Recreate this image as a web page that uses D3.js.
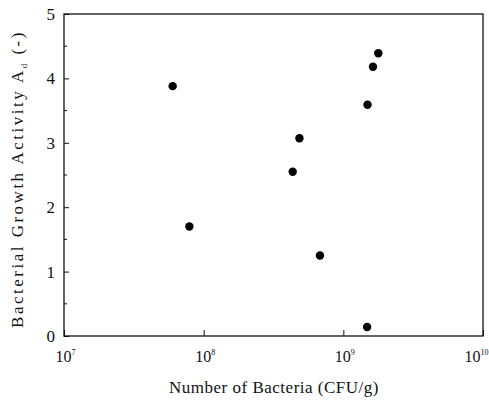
<!DOCTYPE html>
<html lang="en">
<head>
  <meta charset="UTF-8">
  <title>Bacterial Growth Activity vs Number of Bacteria</title>
  <style>
    body { margin: 0; background: #fff; }
  </style>
</head>
<body>
<div id="chart"></div>
<script src="https://d3js.org/d3.v7.min.js"></script>
<script>

// bacteria counts (CFU/g) and growth activity
const bacteria = [6.0e7, 7.9e7, 4.34e8, 4.85e8, 6.8e8, 1.48e9, 1.49e9, 1.63e9, 1.78e9];
const activity = [3.88, 1.70, 2.55, 3.07, 1.25, 0.14, 3.59, 4.18, 4.39];

const xTickExps = [7, 8, 9, 10];
const yTicks = [0, 1, 2, 3, 4, 5];
const yMinor = [0.5, 1.5, 2.5, 3.5, 4.5];

const serif = "'Liberation Serif', 'Times New Roman', Times, 'DejaVu Serif', serif";

const width = 489, height = 402;
const margin = {top: 14, right: 6, bottom: 66, left: 64};

const svg = d3.select("#chart").append("svg")
  .attr("width", width)
  .attr("height", height)
  .style("font-family", serif);

const x = d3.scaleLog()
  .domain([1e7, 1e10])
  .range([margin.left, width - margin.right]);

const y = d3.scaleLinear()
  .domain([0, 5])
  .range([height - margin.bottom, margin.top]);

// frame
svg.append("rect")
  .attr("x", x.range()[0])
  .attr("y", y.range()[1])
  .attr("width", x.range()[1] - x.range()[0])
  .attr("height", y.range()[0] - y.range()[1])
  .attr("fill", "none")
  .attr("stroke", "#111")
  .attr("stroke-width", 1.3);

// y axis, ticks pointing inward
const yAxis = d3.axisLeft(y)
  .tickValues(yTicks)
  .tickSize(-5)
  .tickPadding(9)
  .tickFormat(d3.format("d"));

const gy = svg.append("g")
  .attr("transform", `translate(${margin.left},0)`)
  .call(yAxis)
  .attr("font-family", null);
gy.select(".domain").remove();
gy.selectAll("line").attr("stroke", "#111");
gy.selectAll("text")
  .style("font-family", serif)
  .attr("fill", "#111")
  .attr("font-size", 17);

gy.selectAll(".minor")
  .data(yMinor)
  .enter().append("line")
  .attr("x1", 0).attr("x2", 3)
  .attr("y1", d => y(d)).attr("y2", d => y(d))
  .attr("stroke", "#111");

// x axis, ticks pointing inward, labels as powers of ten
const xAxis = d3.axisBottom(x)
  .tickValues(xTickExps.map(e => Math.pow(10, e)))
  .tickSize(-6)
  .tickFormat("");

const gx = svg.append("g")
  .attr("transform", `translate(0,${height - margin.bottom})`)
  .call(xAxis)
  .attr("font-family", null);
gx.select(".domain").remove();
gx.selectAll("line").attr("stroke", "#111");

gx.selectAll(".tick").each(function(d, i) {
  const last = i === xTickExps.length - 1;
  const t = d3.select(this).append("text")
    .attr("x", last ? 5 : 1)
    .attr("y", 26)
    .attr("text-anchor", last ? "end" : "middle")
    .attr("fill", "#111")
    .style("font-family", serif)
    .attr("font-size", 16);
  t.append("tspan").text("10");
  t.append("tspan")
    .attr("dy", -7)
    .attr("font-size", 8)
    .text(xTickExps[i]);
});

// points
svg.append("g")
  .selectAll("circle")
  .data(bacteria)
  .enter().append("circle")
  .attr("cx", d => x(d))
  .attr("cy", (d, i) => y(activity[i]))
  .attr("r", 4.2)
  .attr("fill", "#000");

// axis titles
svg.append("text")
  .attr("x", 274)
  .attr("y", 393)
  .attr("text-anchor", "middle")
  .attr("fill", "#111")
  .style("font-family", serif)
  .style("letter-spacing", "0.5px")
  .attr("font-size", 17)
  .text("Number of Bacteria (CFU/g)");

const yl = svg.append("text")
  .attr("transform", "translate(23,179) rotate(-90)")
  .attr("text-anchor", "middle")
  .attr("fill", "#111")
  .style("font-family", serif)
  .style("letter-spacing", "2.5px")
  .attr("font-size", 17);
yl.append("tspan").text("Bacterial Growth Activity A");
yl.append("tspan").attr("dy", 4).attr("font-size", 9).text("d");
yl.append("tspan").attr("dy", -4).text(" (-)");

</script>
</body>
</html>
